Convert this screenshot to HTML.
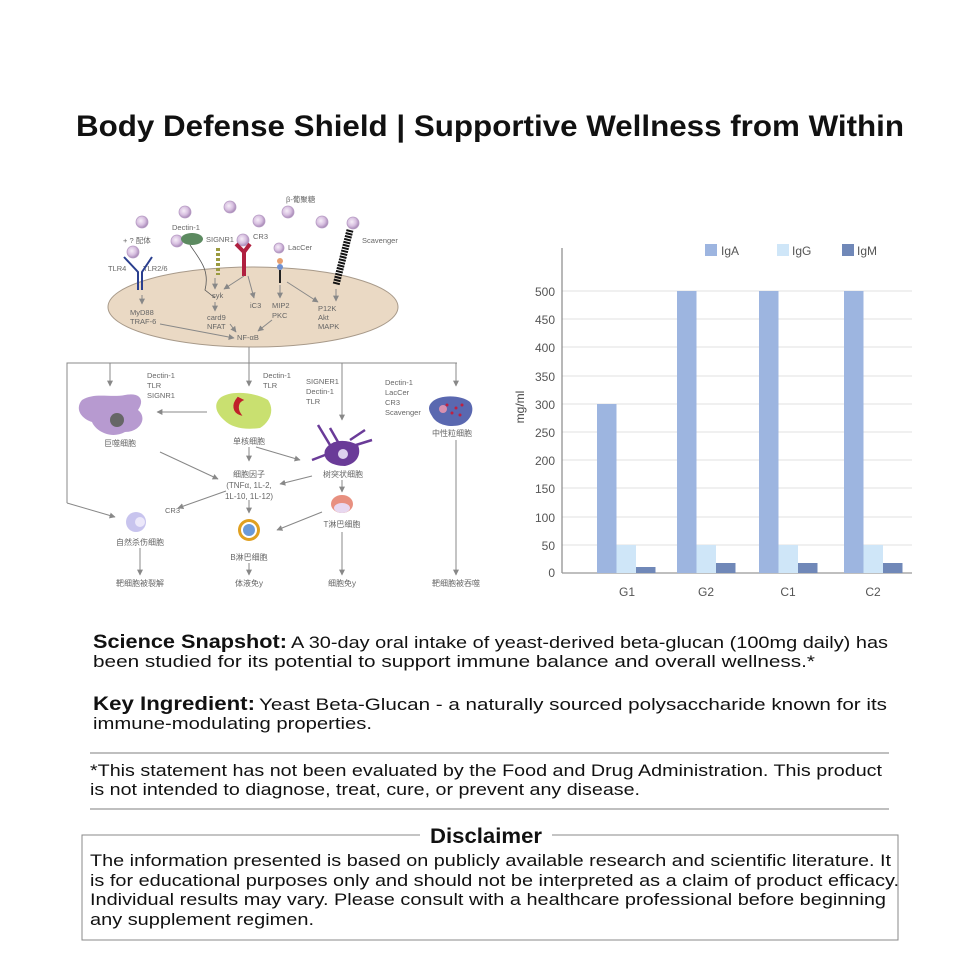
<!DOCTYPE html>
<html><head><meta charset="utf-8"><style>
html,body{margin:0;padding:0;background:#fff}
svg{display:block}
text{font-family:"Liberation Sans","Noto Sans CJK SC",sans-serif}
</style></head><body>
<svg width="980" height="980" viewBox="0 0 980 980" xmlns="http://www.w3.org/2000/svg">
<defs>
<marker id="ar" viewBox="0 0 10 10" refX="9" refY="5" markerWidth="6" markerHeight="6" orient="auto"><path d="M0,0 L10,5 L0,10 z" fill="#888"/></marker>
<radialGradient id="bead" cx="0.4" cy="0.4" r="0.6"><stop offset="0" stop-color="#f6eef8"/><stop offset="0.6" stop-color="#d7bfe0"/><stop offset="1" stop-color="#a98bb8"/></radialGradient>
</defs>
<text x="490" y="136" text-anchor="middle" font-size="30" font-weight="bold" fill="#111" textLength="828" lengthAdjust="spacingAndGlyphs">Body Defense Shield | Supportive Wellness from Within</text>

<!-- Diagram -->
<ellipse cx="253" cy="307" rx="145" ry="40" fill="#ead9c4" stroke="#a89a8a" stroke-width="1"/>
<g fill="url(#bead)" stroke="#b79cc4" stroke-width="0.8">
<circle cx="142" cy="222" r="6"/><circle cx="185" cy="212" r="6"/><circle cx="230" cy="207" r="6"/>
<circle cx="288" cy="212" r="6"/><circle cx="259" cy="221" r="6"/><circle cx="322" cy="222" r="6"/>
<circle cx="353" cy="223" r="6"/><circle cx="177" cy="241" r="6"/><circle cx="243" cy="240" r="6"/>
<circle cx="133" cy="252" r="6"/><circle cx="279" cy="248" r="5"/>
</g>
<g font-size="7.5" fill="#666">
<text x="286" y="202">β-葡聚糖</text>
<text x="123" y="243">+ ? 配体</text>
<text x="172" y="230">Dectin-1</text>
<text x="206" y="242">SIGNR1</text>
<text x="253" y="239">CR3</text>
<text x="288" y="250">LacCer</text>
<text x="362" y="243">Scavenger</text>
<text x="108" y="271">TLR4</text>
<text x="143" y="271">TLR2/6</text>
<text x="212" y="298">syk</text>
<text x="250" y="308">iC3</text>
<text x="272" y="308">MIP2</text>
<text x="272" y="318">PKC</text>
<text x="318" y="311">P12K</text>
<text x="318" y="320">Akt</text>
<text x="318" y="329">MAPK</text>
<text x="130" y="315">MyD88</text>
<text x="130" y="324">TRAF-6</text>
<text x="207" y="320">card9</text>
<text x="207" y="329">NFAT</text>
<text x="237" y="340">NF-αB</text>
</g>
<!-- receptors -->
<path d="M124,257 L138,272 L138,290 M152,257 L142,272 L142,290" stroke="#2a3f8f" stroke-width="2" fill="none"/>
<ellipse cx="192" cy="239" rx="11" ry="6" fill="#5c8a60"/>
<path d="M190,245 C200,260 210,270 205,290 L215,298" stroke="#555" fill="none" stroke-width="0.8"/>
<path d="M218,248 L218,275" stroke="#9a9a40" stroke-width="4" stroke-dasharray="3,2"/>
<path d="M236,244 L244,252 L250,244 M244,252 L244,276" stroke="#b02040" stroke-width="4" fill="none"/>
<circle cx="280" cy="261" r="3" fill="#e8a070"/><circle cx="280" cy="267" r="3" fill="#7090d0"/>
<path d="M280,270 L280,283" stroke="#222" stroke-width="2"/>
<path d="M350,230 L336,285" stroke="#111" stroke-width="7" stroke-dasharray="2,1"/>
<g stroke="#888" stroke-width="1" fill="none" marker-end="url(#ar)">
<line x1="142" y1="295" x2="142" y2="304"/>
<line x1="215" y1="278" x2="215" y2="289"/>
<line x1="244" y1="276" x2="224" y2="289"/>
<line x1="248" y1="276" x2="254" y2="298"/>
<line x1="280" y1="285" x2="280" y2="298"/>
<line x1="287" y1="282" x2="318" y2="302"/>
<line x1="336" y1="289" x2="336" y2="301"/>
<line x1="215" y1="302" x2="215" y2="311"/>
<line x1="160" y1="324" x2="234" y2="338"/>
<line x1="230" y1="324" x2="236" y2="332"/>
<line x1="272" y1="320" x2="258" y2="331"/>
</g>
<!-- lower tree -->
<g stroke="#888" stroke-width="1" fill="none">
<line x1="249" y1="347" x2="249" y2="363"/>
<polyline points="67,503 67,363 457,363"/>
</g>
<g stroke="#888" stroke-width="1" fill="none" marker-end="url(#ar)">
<line x1="110" y1="363" x2="110" y2="386"/>
<line x1="249" y1="363" x2="249" y2="386"/>
<line x1="342" y1="363" x2="342" y2="420"/>
<line x1="456" y1="363" x2="456" y2="386"/>
<line x1="67" y1="503" x2="115" y2="517"/>
<line x1="207" y1="412" x2="157" y2="412"/>
<line x1="160" y1="452" x2="218" y2="479"/>
<line x1="249" y1="447" x2="249" y2="461"/>
<line x1="256" y1="447" x2="300" y2="460"/>
<line x1="312" y1="476" x2="280" y2="484"/>
<line x1="226" y1="491" x2="178" y2="508"/>
<line x1="249" y1="500" x2="249" y2="513"/>
<line x1="342" y1="480" x2="342" y2="492"/>
<line x1="322" y1="512" x2="277" y2="530"/>
<line x1="140" y1="548" x2="140" y2="575"/>
<line x1="249" y1="563" x2="249" y2="575"/>
<line x1="342" y1="532" x2="342" y2="575"/>
<line x1="456" y1="440" x2="456" y2="575"/>
</g>
<!-- cells -->
<path d="M82,400 C95,392 110,398 125,395 C140,392 145,400 138,410 C148,418 140,432 125,432 C110,440 95,430 92,422 C80,418 75,408 82,400Z" fill="#b79ad0"/>
<circle cx="117" cy="420" r="7" fill="#666"/>
<path d="M220,398 C230,390 255,392 268,400 C275,410 270,422 260,428 C245,430 232,428 224,420 C215,412 214,404 220,398Z" fill="#c9e070"/>
<path d="M238,398 C232,405 234,412 240,414 C236,408 238,402 242,400Z" fill="#c0202a" stroke="#c0202a" stroke-width="2"/>
<path d="M325,450 C330,440 345,438 358,445 C362,455 356,464 345,466 C332,466 322,460 325,450Z" fill="#6a3b98"/>
<path d="M330,445 L318,425 M350,440 L365,430 M356,445 L372,440 M325,455 L312,460 M338,442 L330,428" stroke="#6a3b98" stroke-width="2.5" fill="none"/>
<circle cx="343" cy="454" r="5" fill="#ddd0ee"/>
<path d="M432,402 C440,394 462,395 470,402 C476,410 470,422 460,425 C448,428 436,424 432,416 C428,410 428,406 432,402Z" fill="#5a68b0"/>
<g fill="#c02040"><circle cx="447" cy="405" r="1.5"/><circle cx="456" cy="408" r="1.5"/><circle cx="462" cy="405" r="1.5"/><circle cx="452" cy="413" r="1.5"/><circle cx="460" cy="415" r="1.5"/></g>
<circle cx="443" cy="409" r="4" fill="#d890b0"/>
<circle cx="136" cy="522" r="10" fill="#c8c4ee"/><circle cx="140" cy="522" r="5" fill="#ece8fa"/>
<circle cx="249" cy="530" r="11" fill="#e0a020"/><circle cx="249" cy="530" r="8" fill="#fff"/><circle cx="249" cy="530" r="6" fill="#6a9ad8"/>
<ellipse cx="342" cy="504" rx="11" ry="9" fill="#e89080"/><ellipse cx="342" cy="508" rx="8" ry="5" fill="#e8d8f0"/>
<g font-size="7.5" fill="#666">
<text x="147" y="378">Dectin-1</text><text x="147" y="388">TLR</text><text x="147" y="398">SIGNR1</text>
<text x="263" y="378">Dectin-1</text><text x="263" y="388">TLR</text>
<text x="306" y="384">SIGNER1</text><text x="306" y="394">Dectin-1</text><text x="306" y="404">TLR</text>
<text x="385" y="385">Dectin-1</text><text x="385" y="395">LacCer</text><text x="385" y="405">CR3</text><text x="385" y="415">Scavenger</text>
<text x="165" y="513">CR3</text>
</g>
<g font-size="8" fill="#666" text-anchor="middle">
<text x="120" y="446">巨噬细胞</text><text x="249" y="444">单核细胞</text><text x="343" y="477">树突状细胞</text>
<text x="452" y="436">中性粒细胞</text>
<text x="249" y="477">细胞因子</text><text x="249" y="488">(TNFα, 1L-2,</text><text x="249" y="499">1L-10, 1L-12)</text>
<text x="140" y="545">自然杀伤细胞</text><text x="249" y="560">B淋巴细胞</text><text x="342" y="527">T淋巴细胞</text>
<text x="140" y="586">靶细胞被裂解</text><text x="249" y="586">体液免y</text><text x="342" y="586">细胞免y</text><text x="456" y="586">靶细胞被吞噬</text>
</g>

<!-- Chart -->
<g stroke="#e0e0e0" stroke-width="1">
<line x1="562" y1="291" x2="912" y2="291"/><line x1="562" y1="319" x2="912" y2="319"/>
<line x1="562" y1="347" x2="912" y2="347"/><line x1="562" y1="376" x2="912" y2="376"/>
<line x1="562" y1="404" x2="912" y2="404"/><line x1="562" y1="432" x2="912" y2="432"/>
<line x1="562" y1="460" x2="912" y2="460"/><line x1="562" y1="488" x2="912" y2="488"/>
<line x1="562" y1="517" x2="912" y2="517"/><line x1="562" y1="545" x2="912" y2="545"/>
</g>
<line x1="562" y1="248" x2="562" y2="573" stroke="#888" stroke-width="1.2"/>
<line x1="562" y1="573" x2="912" y2="573" stroke="#999" stroke-width="1.2"/>
<g fill="#9db5e0"><rect x="597" y="404" width="19.5" height="169"/><rect x="677" y="291" width="19.5" height="282"/><rect x="759" y="291" width="19.5" height="282"/><rect x="844" y="291" width="19.5" height="282"/></g>
<g fill="#cfe6f8"><rect x="616.5" y="545" width="19.5" height="28"/><rect x="696.5" y="545" width="19.5" height="28"/><rect x="778.5" y="545" width="19.5" height="28"/><rect x="863.5" y="545" width="19.5" height="28"/></g>
<g fill="#7088b8"><rect x="636" y="567" width="19.5" height="6"/><rect x="716" y="563" width="19.5" height="10"/><rect x="798" y="563" width="19.5" height="10"/><rect x="883" y="563" width="19.5" height="10"/></g>
<g font-size="12" fill="#555" text-anchor="end">
<text x="555" y="296">500</text><text x="555" y="324">450</text><text x="555" y="352">400</text><text x="555" y="381">350</text>
<text x="555" y="409">300</text><text x="555" y="437">250</text><text x="555" y="465">200</text><text x="555" y="493">150</text>
<text x="555" y="522">100</text><text x="555" y="550">50</text><text x="555" y="577">0</text>
</g>
<g font-size="12" fill="#555" text-anchor="middle">
<text x="627" y="596">G1</text><text x="706" y="596">G2</text><text x="788" y="596">C1</text><text x="873" y="596">C2</text>
</g>
<text transform="translate(524,407) rotate(-90)" font-size="12" fill="#444" text-anchor="middle">mg/ml</text>
<rect x="705" y="244" width="12" height="12" fill="#9db5e0"/><text x="721" y="255" font-size="12" fill="#555">IgA</text>
<rect x="777" y="244" width="12" height="12" fill="#cfe6f8"/><text x="792" y="255" font-size="12" fill="#555">IgG</text>
<rect x="842" y="244" width="12" height="12" fill="#7088b8"/><text x="857" y="255" font-size="12" fill="#555">IgM</text>

<!-- Text section -->
<g fill="#111">
<text x="93" y="648" font-size="19" font-weight="bold" textLength="194" lengthAdjust="spacingAndGlyphs">Science Snapshot:</text>
<text x="291" y="648" font-size="17" textLength="597" lengthAdjust="spacingAndGlyphs">A 30-day oral intake of yeast-derived beta-glucan (100mg daily) has</text>
<text x="93" y="667" font-size="17" textLength="722" lengthAdjust="spacingAndGlyphs">been studied for its potential to support immune balance and overall wellness.*</text>
<text x="93" y="710" font-size="19" font-weight="bold" textLength="162" lengthAdjust="spacingAndGlyphs">Key Ingredient:</text>
<text x="259" y="710" font-size="17" textLength="628" lengthAdjust="spacingAndGlyphs">Yeast Beta-Glucan - a naturally sourced polysaccharide known for its</text>
<text x="93" y="729" font-size="17" textLength="279" lengthAdjust="spacingAndGlyphs">immune-modulating properties.</text>
<line x1="90" y1="753" x2="889" y2="753" stroke="#aaa" stroke-width="1.5"/>
<text x="90" y="776" font-size="17" textLength="792" lengthAdjust="spacingAndGlyphs">*This statement has not been evaluated by the Food and Drug Administration. This product</text>
<text x="90" y="795" font-size="17" textLength="550" lengthAdjust="spacingAndGlyphs">is not intended to diagnose, treat, cure, or prevent any disease.</text>
<line x1="90" y1="809" x2="889" y2="809" stroke="#aaa" stroke-width="1.5"/>
<path d="M420,835 L82,835 L82,940 L898,940 L898,835 L552,835" fill="none" stroke="#888" stroke-width="1"/>
<text x="486" y="843" font-size="21" font-weight="bold" text-anchor="middle" textLength="112" lengthAdjust="spacingAndGlyphs">Disclaimer</text>
<text x="90" y="866" font-size="17" textLength="801" lengthAdjust="spacingAndGlyphs">The information presented is based on publicly available research and scientific literature. It</text>
<text x="90" y="886" font-size="17" textLength="809" lengthAdjust="spacingAndGlyphs">is for educational purposes only and should not be interpreted as a claim of product efficacy.</text>
<text x="90" y="905" font-size="17" textLength="796" lengthAdjust="spacingAndGlyphs">Individual results may vary. Please consult with a healthcare professional before beginning</text>
<text x="90" y="925" font-size="17" textLength="224" lengthAdjust="spacingAndGlyphs">any supplement regimen.</text>
</g>
</svg>
</body></html>
